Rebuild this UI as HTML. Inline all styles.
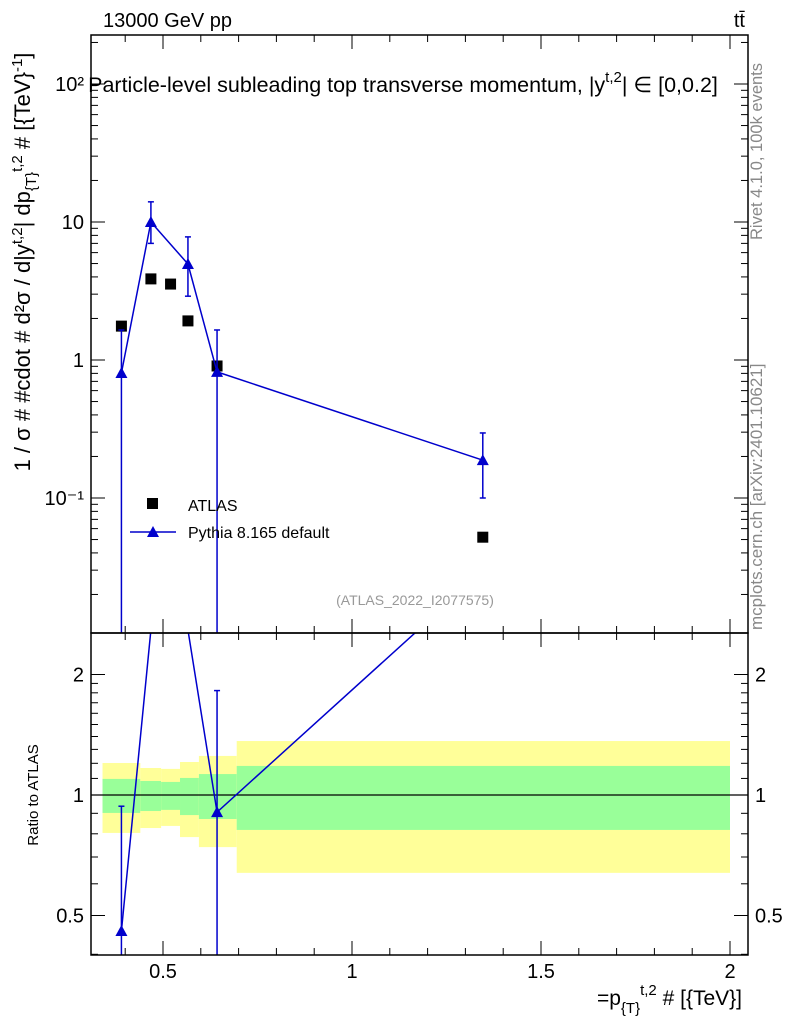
<!DOCTYPE html>
<html><head><meta charset="utf-8"><style>
html,body{margin:0;background:#fff;width:786px;height:1024px;overflow:hidden}
svg{display:block}
svg text{font-family:"Liberation Sans",sans-serif}
</style></head><body>
<svg id="c" width="786" height="1024" xmlns="http://www.w3.org/2000/svg">
<defs>
<clipPath id="cm"><rect x="91" y="35" width="657" height="598"/></clipPath>
<clipPath id="cr"><rect x="91" y="633" width="657" height="322"/></clipPath>
</defs>
<g id="bands" clip-path="url(#cr)"></g>
<g id="ratio" clip-path="url(#cr)"></g>
<g id="main" clip-path="url(#cm)"></g>
<g id="axes"></g>
<text x="103" y="27" font-size="20">13000 GeV pp</text>
<text x="745" y="27" font-size="20" text-anchor="end">tt̄</text>
<text x="403" y="92" font-size="21.5" text-anchor="middle">Particle-level subleading top transverse momentum, |y<tspan font-size="15" dy="-10">t,2</tspan><tspan dy="10">| ∈ [0,0.2]</tspan></text>
<text transform="translate(30,262) rotate(-90)" font-size="22" text-anchor="middle">1 / σ # #cdot # d²σ / d|y<tspan font-size="15" dy="-8">t,2</tspan><tspan dy="8">| dp</tspan><tspan font-size="15" dy="6">{T}</tspan><tspan font-size="15" dy="-14">t,2</tspan><tspan dy="8"> # [{TeV}</tspan><tspan font-size="15" dy="-8">-1</tspan><tspan dy="8">]</tspan></text>
<text transform="translate(38,795) rotate(-90)" font-size="15" text-anchor="middle">Ratio to ATLAS</text>
<text x="742" y="1005" font-size="21" text-anchor="end">=p<tspan font-size="15" dy="8">{T}</tspan><tspan font-size="15" dy="-18">t,2</tspan><tspan dy="10"> # [{TeV}]</tspan></text>
<text transform="translate(762,240) rotate(-90)" font-size="16.5" fill="#888">Rivet 4.1.0,  100k events</text>
<text transform="translate(762,630) rotate(-90)" font-size="17" fill="#888">mcplots.cern.ch [arXiv:2401.10621]</text>
<text x="415" y="605" font-size="14" fill="#999" text-anchor="middle">(ATLAS_2022_I2077575)</text>
<g>
<rect x="147" y="498" width="11" height="11" fill="#000"/>
<text x="188" y="511" font-size="16">ATLAS</text>
<line x1="130" y1="532" x2="176" y2="532" stroke="#00c" stroke-width="1.5"/>
<polygon points="153,526 159,537 147,537" fill="#00c"/>
<text x="188" y="538" font-size="16">Pythia 8.165 default</text>
</g>
</svg>
<script>
const binEdges=[0.34,0.44,0.495,0.545,0.595,0.695,2.0];
const atlasX=[0.39,0.468,0.52,0.566,0.643,1.346];
const atlasY=[1.76,3.87,3.55,1.92,0.905,0.052];
const yellowHi=[1.202,1.168,1.162,1.209,1.252,1.364];
const yellowLo=[0.804,0.827,0.837,0.785,0.741,0.639];
const greenHi=[1.097,1.084,1.078,1.103,1.128,1.182];
const greenLo=[0.902,0.912,0.918,0.891,0.871,0.818];
const pyX=[0.39,0.468,0.566,0.643,1.346];
const pyRefIdx=[0,1,3,4,5];
const pyY=[0.805,10,4.96,0.82,0.188];
const pyHi=[1.65,14.0,7.8,1.65,0.296];
const pyLo=[0.001,7.0,2.9,0.001,0.1];
const xTicks=[0.5,1,1.5,2];
const xTickLabels=["0.5","1","1.5","2"];
const ratioTicks=[0.5,1,2];

const NS="http://www.w3.org/2000/svg";
const X=v=>-26+378*v;
const Y=v=>360-138*Math.log10(v);
const R=v=>795-120.5*Math.log2(v);
function mk(p,t,a){const e=document.createElementNS(NS,t);for(const k in a)e.setAttribute(k,a[k]);p.appendChild(e);return e;}
const bands=document.getElementById('bands'),ratio=document.getElementById('ratio'),main=document.getElementById('main'),axes=document.getElementById('axes');
for(let i=0;i<yellowHi.length;i++){
 const x1=X(binEdges[i]),x2=X(binEdges[i+1]);
 const y=mk(bands,'rect',{x:x1,y:R(yellowHi[i]),width:x2-x1,height:R(yellowLo[i])-R(yellowHi[i]),fill:'#ffff99'});
 
 
 const g=mk(bands,'rect',{x:x1,y:R(greenHi[i]),width:x2-x1,height:R(greenLo[i])-R(greenHi[i]),fill:'#99ff99'});
 
 
}
mk(ratio,'line',{x1:91,x2:748,y1:R(1),y2:R(1),stroke:'#000','stroke-width':1.2});
atlasX.forEach((x,i)=>{const r=mk(main,'rect',{x:X(x)-5.5,y:Y(atlasY[i])-5.5,width:11,height:11,fill:'#000'});
 
 });
mk(main,'polyline',{points:pyX.map((x,i)=>X(x)+','+Y(pyY[i])).join(' '),fill:'none',stroke:'#00c','stroke-width':1.5});
const rp=[];
pyX.forEach((x,i)=>{
 const cx=X(x);
 mk(main,'line',{x1:cx,x2:cx,y1:Y(pyHi[i]),y2:Y(pyLo[i]),stroke:'#00c','stroke-width':1.5});
 mk(main,'line',{x1:cx-3,x2:cx+3,y1:Y(pyHi[i]),y2:Y(pyHi[i]),stroke:'#00c','stroke-width':1.5});
 mk(main,'line',{x1:cx-3,x2:cx+3,y1:Y(pyLo[i]),y2:Y(pyLo[i]),stroke:'#00c','stroke-width':1.5});
 const cy=Y(pyY[i]);
 const p=mk(main,'polygon',{points:`${cx},${cy-6} ${cx+6},${cy+5} ${cx-6},${cy+5}`,fill:'#00c'});
 
 
 const a=atlasY[pyRefIdx[i]];
 rp.push([cx,R(pyY[i]/a),R(pyHi[i]/a),R(pyLo[i]/a)]);
});
mk(ratio,'polyline',{points:rp.map(p=>p[0]+','+p[1]).join(' '),fill:'none',stroke:'#00c','stroke-width':1.5});
rp.forEach(p=>{
 if(p[1]<633||p[1]>955)return;
 mk(ratio,'line',{x1:p[0],x2:p[0],y1:p[2],y2:p[3],stroke:'#00c','stroke-width':1.5});
 mk(ratio,'line',{x1:p[0]-3,x2:p[0]+3,y1:p[2],y2:p[2],stroke:'#00c','stroke-width':1.5});
 const t=mk(ratio,'polygon',{points:`${p[0]},${p[1]-6} ${p[0]+6},${p[1]+5} ${p[0]-6},${p[1]+5}`,fill:'#00c'});
 
 
});
mk(axes,'rect',{x:91,y:35,width:657,height:598,fill:'none',stroke:'#000','stroke-width':1.5});
mk(axes,'rect',{x:91,y:633,width:657,height:322,fill:'none',stroke:'#000','stroke-width':1.5});
for(let v=0.4;v<=2.04;v+=0.1){const maj=xTicks.some(t=>Math.abs(t-v)<1e-6);const L=maj?14:7;const x=X(v);
 [633,955].forEach(y=>mk(axes,'line',{x1:x,x2:x,y1:y,y2:y-L,stroke:'#000'}));
 [35,633].forEach(y=>mk(axes,'line',{x1:x,x2:x,y1:y,y2:y+L,stroke:'#000'}));}
xTicks.forEach((v,i)=>{const t=mk(axes,'text',{x:X(v),y:978,'font-size':20,'text-anchor':'middle'});t.textContent=xTickLabels[i];
 
 });
for(let e=-2;e<=2;e++)for(let m=1;m<10;m++){const v=m*Math.pow(10,e);const y=Y(v);if(y<35||y>633)continue;const L=m==1?14:7;
 mk(axes,'line',{x1:91,x2:91+L,y1:y,y2:y,stroke:'#000'});mk(axes,'line',{x1:748,x2:748-L,y1:y,y2:y,stroke:'#000'});}
[[2,'10²'],[1,'10'],[0,'1'],[-1,'10⁻¹']].forEach(([e,s])=>{const t=mk(axes,'text',{x:84,y:Y(Math.pow(10,e))+7,'font-size':20,'text-anchor':'end'});t.textContent=s;
 
 });
[0.4,0.6,0.7,0.8,0.9,1.1,1.2,1.3,1.4,1.5,1.6,1.7,1.8,1.9].concat(ratioTicks).forEach(v=>{const y=R(v);const L=ratioTicks.includes(v)?14:7;
 mk(axes,'line',{x1:91,x2:91+L,y1:y,y2:y,stroke:'#000'});mk(axes,'line',{x1:748,x2:748-L,y1:y,y2:y,stroke:'#000'});});
ratioTicks.forEach(v=>{[[84,'end'],[755,'start']].forEach(([x,a])=>{const t=mk(axes,'text',{x:x,y:R(v)+7,'font-size':20,'text-anchor':a});t.textContent=String(v);
 
 });});
</script>
</body></html>
